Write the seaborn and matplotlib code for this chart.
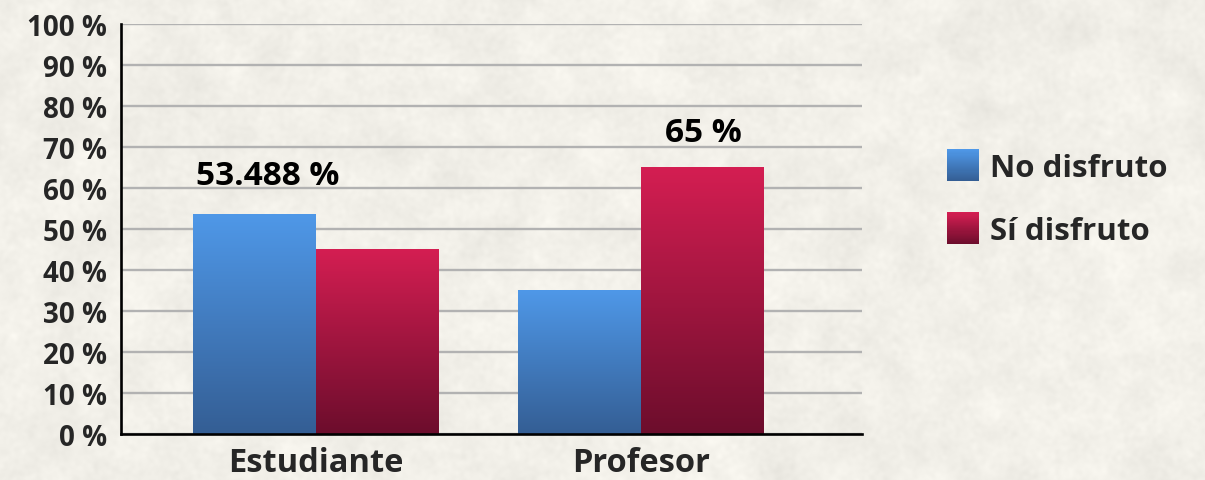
import numpy as np
import pandas as pd
import matplotlib
matplotlib.use("Agg")
import matplotlib.pyplot as plt
import seaborn as sns
from matplotlib.patches import Rectangle
from matplotlib.colors import to_rgb
from matplotlib.legend_handler import HandlerBase

# ---- data ----
groups = ["Estudiante", "Profesor"]
series = ["No disfruto", "Sí disfruto"]
no_disfruto = [53.488, 35]
si_disfruto = [45, 65]
y_ticks = [0, 10, 20, 30, 40, 50, 60, 70, 80, 90, 100]
labelled_bars = [("Estudiante", "No disfruto"), ("Profesor", "Sí disfruto")]

# ---- style ----
BG = (242 / 255, 240 / 255, 233 / 255)
GRADIENTS = {
    "No disfruto": (to_rgb("#4f98e8"), to_rgb("#345e94")),
    "Sí disfruto": (to_rgb("#d41e52"), to_rgb("#6c0d2c")),
}
FONT = ["Open Sans", "DejaVu Sans"]

sns.set_style("white")
plt.rcParams["font.family"] = FONT
plt.rcParams["font.weight"] = "bold"

W, H = 1205, 481
fig = plt.figure(figsize=(W / 100, H / 100), dpi=100)
fig.patch.set_facecolor(BG)

# soft parchment texture behind everything
rng = np.random.default_rng(11)
def smooth_noise(sigma):
    n = rng.normal(size=(H, W))
    fy = np.fft.fftfreq(H)[:, None]
    fx = np.fft.fftfreq(W)[None, :]
    k = np.exp(-2 * (np.pi ** 2) * (sigma ** 2) * (fx ** 2 + fy ** 2))
    s = np.real(np.fft.ifft2(np.fft.fft2(n) * k))
    return s / s.std()
tex = 0.6 * smooth_noise(10) + 0.4 * smooth_noise(2)
base = np.array(BG)[None, None, :]
img = np.clip(base + tex[:, :, None] * (3.5 / 255), 0, 1)
fig.figimage(img, xo=0, yo=0, zorder=-10)

ax = fig.add_axes([121 / W, 46 / H, 741 / W, 410 / H])
ax.set_facecolor("none")

df = pd.DataFrame({
    "grupo": groups * 2,
    "serie": [series[0]] * len(groups) + [series[1]] * len(groups),
    "valor": no_disfruto + si_disfruto,
})

mid = [tuple((np.array(GRADIENTS[s][0]) + np.array(GRADIENTS[s][1])) / 2) for s in series]
sns.barplot(data=df, x="grupo", y="valor", hue="serie", hue_order=series,
            order=groups, palette=mid, saturation=1, width=0.754,
            legend=False, ax=ax, zorder=3)

# replace flat fills with vertical gradients
centers = {}
for s, cont in zip(series, ax.containers):
    top, bot = GRADIENTS[s]
    ramp = np.linspace(0, 1, 256)[:, None, None]
    grad = np.array(top)[None, None, :] * (1 - ramp) + np.array(bot)[None, None, :] * ramp
    for g, bar in zip(groups, cont):
        x0, w, h = bar.get_x(), bar.get_width(), bar.get_height()
        bar.set_facecolor("none")
        bar.set_edgecolor("none")
        ax.imshow(grad, extent=[x0, x0 + w, 0, h], origin="upper",
                  aspect="auto", zorder=3, interpolation="bilinear")
        centers[(g, s)] = (x0 + w / 2, h)

ax.set_xlim(-0.6, 1.68)
ax.set_ylim(0, 100)

ax.set_yticks(y_ticks)
ax.set_yticklabels([f"{t} %" for t in y_ticks], fontsize=20, fontweight="bold")
ax.tick_params(axis="y", length=0, pad=10)
ax.tick_params(axis="x", length=0, pad=9, labelsize=23.5)
for lbl in ax.get_xticklabels():
    lbl.set_fontweight("bold")
ax.set_xlabel("")
ax.set_ylabel("")

ax.yaxis.grid(True, color="#b2b2b2", linewidth=1.7, zorder=0)
ax.set_axisbelow(True)
for side in ("top", "right"):
    ax.spines[side].set_visible(False)
for side in ("left", "bottom"):
    ax.spines[side].set_color("black")
    ax.spines[side].set_linewidth(1.9)
    ax.spines[side].set_zorder(5)

# value labels over the highlighted bars (offsets in points)
label_offset = {("Estudiante", "No disfruto"): (9, 22), ("Profesor", "Sí disfruto"): (1, 19)}
for key in labelled_bars:
    cx, v = centers[key]
    ax.annotate(f"{v:g} %", xy=(cx, v), xytext=label_offset[key],
                textcoords="offset points", ha="center", va="baseline",
                fontsize=24, fontweight="bold", color="black", zorder=6)


class GradientSquare(HandlerBase):
    def __init__(self, top, bottom, n=30):
        super().__init__()
        self.top, self.bottom, self.n = np.array(top), np.array(bottom), n

    def create_artists(self, legend, orig_handle, xdescent, ydescent,
                       width, height, fontsize, trans):
        arts = []
        side = width
        y0 = -ydescent + (height - side) / 2
        for i in range(self.n):
            t = i / (self.n - 1)
            c = self.top * (1 - t) + self.bottom * t
            y = y0 + side * (1 - (i + 1) / self.n)
            arts.append(Rectangle((-xdescent, y), width, side / self.n * 1.05,
                                  facecolor=c, edgecolor="none", transform=trans))
        return arts


handles = [Rectangle((0, 0), 1, 1) for _ in series]
leg = fig.legend(handles, series,
                 handler_map={h: GradientSquare(*GRADIENTS[s]) for h, s in zip(handles, series)},
                 loc="upper left", bbox_to_anchor=(947 / W, 1 - 152 / H),
                 frameon=False, handlelength=1.02, handleheight=1.02,
                 handletextpad=0.36, labelspacing=1.0, borderpad=0, borderaxespad=0,
                 prop={"weight": "bold", "size": 22.5})

fig.savefig("out.png", dpi=100, facecolor=BG)
